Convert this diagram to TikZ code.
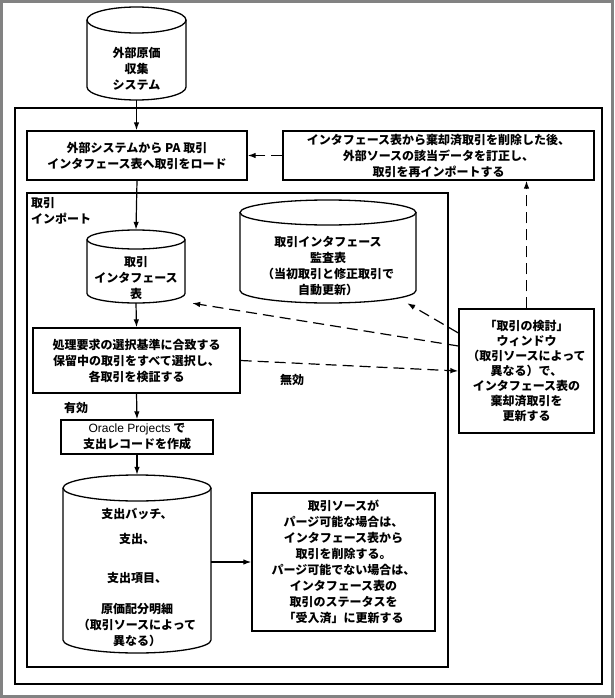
\documentclass[tikz,border=0pt]{standalone}
\usepackage{fontspec}
\setmainfont{Noto Sans CJK JP}
\newfontfamily\latfont{Liberation Sans}
\usetikzlibrary{arrows.meta}

\newcommand\dbcyl[6]{% name, L, R, T, B, ry
  \pgfmathsetmacro\cylcx{(#2+#3)/2}
  \pgfmathsetmacro\cylrx{(#3-#2)/2}
  \pgfmathsetmacro\cylcy{(#4+#5)/2}
  \fill[white] (#2,#4+#6) -- (#2,#5-#6) arc[start angle=180,end angle=360,x radius=\cylrx pt,y radius=#6 pt] -- (#3,#4+#6) -- cycle;
  \draw[line] (#2,#4+#6) -- (#2,#5-#6) arc[start angle=180,end angle=360,x radius=\cylrx pt,y radius=#6 pt] -- (#3,#4+#6);
  \draw[line] (\cylcx,#4+#6) ellipse[x radius=\cylrx pt, y radius=#6 pt];
  \node[minimum width={(#3-#2)*1pt}, minimum height={(#5-#4)*1pt}] (#1) at (\cylcx,\cylcy) {};
}

\begin{document}
\begin{tikzpicture}[x=1pt,y=-1pt,
  every node/.style={font=\bfseries\fontsize{12}{16}\selectfont, align=center, inner sep=0pt},
  line/.style={line width=1.3pt},
  box/.style={draw, line width=1.3pt, fill=white},
  arr/.style={line width=1.2pt, -{Latex[length=8pt,width=5.5pt]}},
  darr/.style={arr, dash pattern=on 11pt off 6pt}]
\useasboundingbox (0,0) rectangle (614,698);
\draw[line width=3pt, color={rgb,255:red,130;green,130;blue,130}] (1.5,1.5) rectangle (612.5,696.5);

% frames
\draw[line] (15,108) rectangle (602,684);
\draw[line] (27,193) rectangle (448,667);
\node[anchor=north west, align=left] (implabel) at (31,197) {取引\\インポート};

% external system cylinder
\dbcyl{ext}{87}{186}{7}{100}{13}
\node (extt) at (136.5,69) {外部原価\\収集\\システム};

% top boxes
\node[box, minimum width=220pt, minimum height=49pt] (load) at (137,155.5) {外部システムから PA 取引\\インタフェース表へ取引をロード};
\node[box, minimum width=311pt, minimum height=49pt] (fix) at (438.5,155.5) {インタフェース表から棄却済取引を削除した後、\\外部ソースの該当データを訂正し、\\取引を再インポートする};

% interface table
\dbcyl{tif}{87}{185}{230}{303}{9.5}
\node (tift) at (136,278) {取引\\インタフェース\\表};

% audit table
\dbcyl{aud}{240}{416}{200}{303}{12.5}
\node (audt) at (328,266) {取引インタフェース\\監査表\\（当初取引と修正取引で\\自動更新）};

% process box
\node[box, minimum width=207pt, minimum height=65pt] (proc) at (136.5,360.5) {処理要求の選択基準に合致する\\保留中の取引をすべて選択し、\\各取引を検証する};

% review window box
\node[box, minimum width=135pt, minimum height=124pt, font=\bfseries\fontsize{12}{15}\selectfont] (win) at (526.5,371) {「取引の検討」\\ウィンドウ\\（取引ソースによって\\異なる）で、\\インタフェース表の\\棄却済取引を\\更新する};

% oracle box
\node[box, minimum width=152pt, minimum height=34pt] (ora) at (137,437) {{\latfont\mdseries Oracle Projects} で\\支出レコードを作成};

% expenditure cylinder
\dbcyl{exp}{63}{211}{475}{653}{13}
\node (expt) at (137,577) {支出バッチ、\\[9pt]支出、\\[23pt]支出項目、\\[15pt]原価配分明細\\（取引ソースによって\\異なる）};

% purge box
\node[box, minimum width=183pt, minimum height=138pt] (purge) at (343.5,562) {取引ソースが\\パージ可能な場合は、\\インタフェース表から\\取引を削除する。\\パージ可能でない場合は、\\インタフェース表の\\取引のステータスを\\「受入済」に更新する};

% labels
\node (valid) at (76,408) {有効};
\node (invalid) at (292,380) {無効};

% solid arrows
\draw[arr] (ext.south) -- (ext.south |- load.north);
\draw[arr] (load.south) -- (tif.north);
\draw[arr] (tif.south) -- (proc.north);
\draw[arr] (proc.south) -- (ora.north);
\draw[arr] (ora.south) -- (exp.north);
\draw[arr] (exp.east |- purge.west) -- (purge.west);

% dashed arrows
\draw[darr] (fix.west) -- (load.east);
\draw[darr] (win.north) -- (win.north |- fix.south);
\draw[darr] ([yshift=38pt]win.west) -- ([xshift=-9pt]aud.south east);
\draw[darr] ([yshift=25pt]win.west) -- ([xshift=7pt]tif.south east);
\draw[darr] (proc.east) -- (win.west);
\end{tikzpicture}
\end{document}
